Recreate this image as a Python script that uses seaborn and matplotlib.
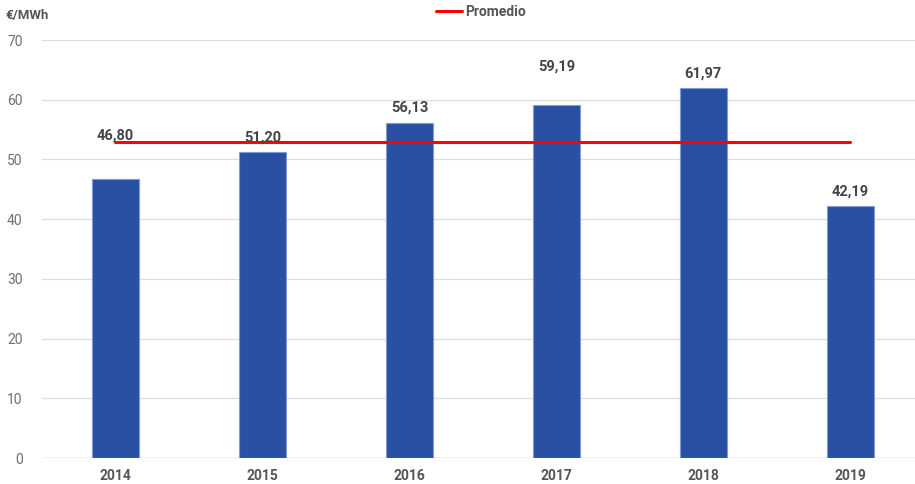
import numpy as np
import pandas as pd
import seaborn as sns
import matplotlib
import matplotlib.pyplot as plt

matplotlib.use('Agg')

years = ["2014", "2015", "2016", "2017", "2018", "2019"]
prices = [46.80, 51.20, 56.13, 59.19, 61.97, 42.19]
avg_label = "Promedio"
unit_label = "€/MWh"

df = pd.DataFrame({"year": years, "price": prices})
mean_price = np.mean(prices)

sns.set_theme(style="white")
plt.rcParams['font.family'] = ['Roboto', 'DejaVu Sans']

fig = plt.figure(figsize=(9.15, 4.84), dpi=100)
ax = fig.add_axes([42 / 915, 26 / 484, 873 / 915, 418 / 484])

sns.barplot(data=df, x="year", y="price", color="#2a50a3", width=0.32,
            edgecolor="#7f9ad6", linewidth=0.8, saturation=1, ax=ax, zorder=2)

ax.plot([0, len(years) - 1], [mean_price, mean_price], color="#ff0000",
        linewidth=2.2, zorder=3, label=avg_label)

# label heights above the bar tops, in pixels
label_lift = [43, 15, 15, 38, 14, 15]
for i, (v, lift) in enumerate(zip(prices, label_lift)):
    ax.annotate(f"{v:.2f}".replace(".", ","), (i, v), xytext=(0, lift),
                textcoords="offset pixels", ha="center", va="center",
                fontsize=10.5, fontweight="bold", color="#444444", zorder=4)

ax.set_ylim(0, 70)
ax.set_xlim(-0.5, 5.44)
ax.set_yticks(range(0, 71, 10))
ax.yaxis.grid(True, color="#dddddd", linewidth=0.9, zorder=0)
ax.set_axisbelow(True)
for s in ax.spines.values():
    s.set_visible(False)
ax.axhline(0, color="#cccccc", linewidth=1.0, zorder=1)

ax.set_xlabel("")
ax.set_ylabel("")
ax.tick_params(axis="y", length=0, pad=14, labelsize=10, labelcolor="#6e6e6e")
ax.tick_params(axis="x", length=0, pad=8, labelsize=10, labelcolor="#555555")
for t in ax.get_xticklabels():
    t.set_fontweight("bold")

fig.text(5 / 915, 1 - 16 / 484, unit_label, fontsize=9.5, fontweight="bold",
         color="#555555", ha="left", va="center")

ax.legend(loc="center", bbox_to_anchor=(481 / 915, 1 - 12 / 484), bbox_transform=fig.transFigure,
          frameon=False, handlelength=1.9, handletextpad=0.2,
          prop={"weight": "bold", "size": 10})
for t in ax.get_legend().get_texts():
    t.set_color("#555555")

fig.savefig("out.png", dpi=100)
